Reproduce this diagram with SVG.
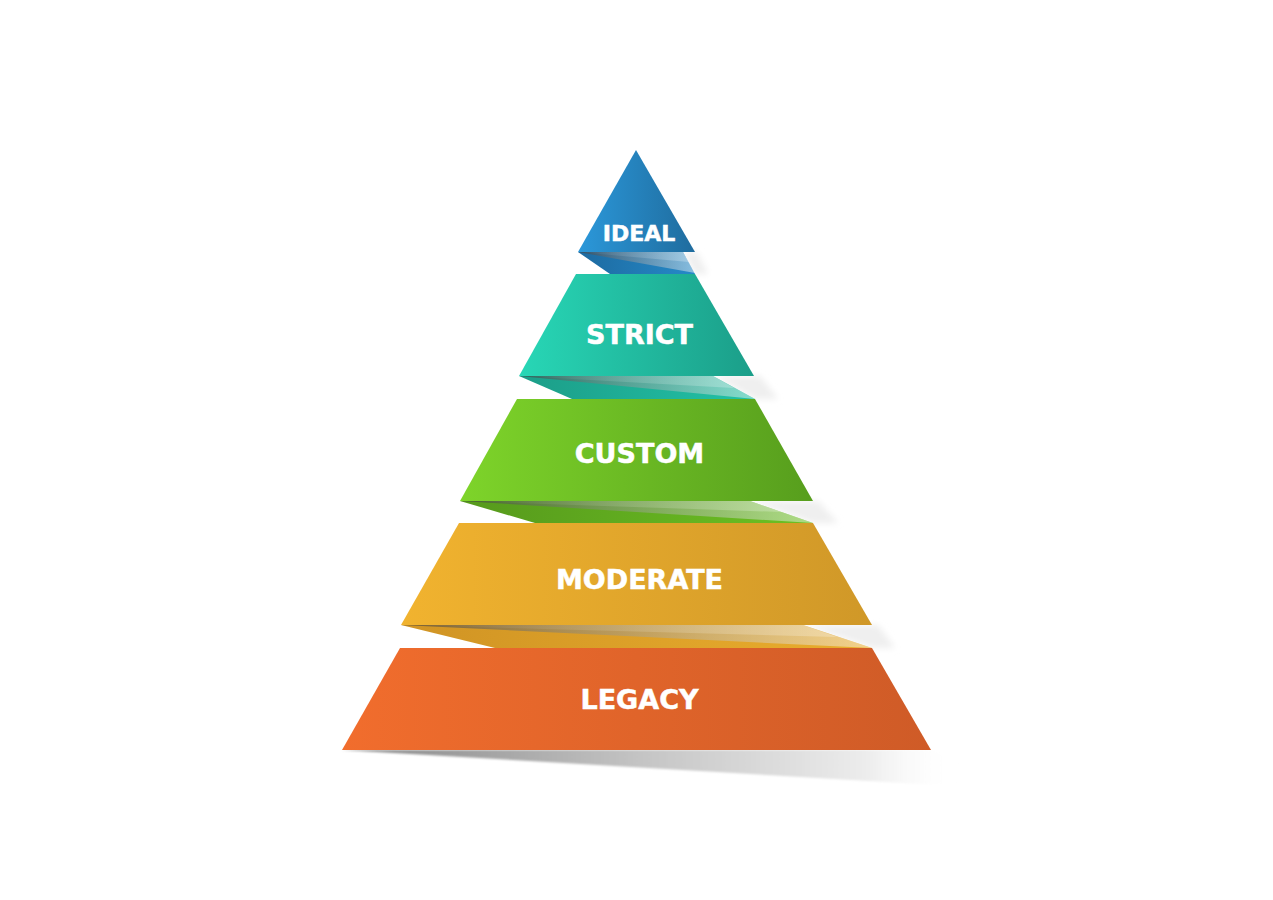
<svg xmlns="http://www.w3.org/2000/svg" width="1273" height="900" viewBox="0 0 1273 900">
<style>
.lbl{font-family:"DejaVu Sans","Liberation Sans",sans-serif;font-weight:bold;fill:#ffffff;stroke:#ffffff;stroke-width:0.5;stroke-linejoin:miter;text-anchor:middle}
.soft{fill:#efefef;filter:url(#blur)}
</style>
<defs>
<filter id="blur" x="-20%" y="-50%" width="140%" height="200%"><feGaussianBlur stdDeviation="3"/></filter>
<filter id="blur2" x="-10%" y="-50%" width="120%" height="200%"><feGaussianBlur stdDeviation="1.2"/></filter>
<linearGradient id="gIdeal" x1="0" y1="0" x2="1" y2="0"><stop offset="0" stop-color="#2b98da"/><stop offset="1" stop-color="#1f6c9e"/></linearGradient>
<linearGradient id="gStrict" x1="0" y1="0" x2="1" y2="0"><stop offset="0" stop-color="#28d7b6"/><stop offset="1" stop-color="#1b9e89"/></linearGradient>
<linearGradient id="gCustom" x1="0" y1="0" x2="1" y2="0"><stop offset="0" stop-color="#7ed42a"/><stop offset="1" stop-color="#579e1d"/></linearGradient>
<linearGradient id="gModerate" x1="0" y1="0" x2="1" y2="0"><stop offset="0" stop-color="#f1b32f"/><stop offset="1" stop-color="#d09828"/></linearGradient>
<linearGradient id="gLegacy" x1="0" y1="0" x2="1" y2="0"><stop offset="0" stop-color="#f16d2d"/><stop offset="1" stop-color="#cf5b27"/></linearGradient>
<linearGradient id="fIdeal" x1="0" y1="0" x2="1" y2="0"><stop offset="0" stop-color="#1d6aa0"/><stop offset="1" stop-color="#2589c8"/></linearGradient>
<linearGradient id="fStrict" x1="0" y1="0" x2="1" y2="0"><stop offset="0" stop-color="#1c9d88"/><stop offset="1" stop-color="#22c2a6"/></linearGradient>
<linearGradient id="fCustom" x1="0" y1="0" x2="1" y2="0"><stop offset="0" stop-color="#56991c"/><stop offset="1" stop-color="#6cc023"/></linearGradient>
<linearGradient id="fModerate" x1="0" y1="0" x2="1" y2="0"><stop offset="0" stop-color="#d09424"/><stop offset="1" stop-color="#e9ad2d"/></linearGradient>
<linearGradient id="ov" x1="0" y1="0" x2="1" y2="0"><stop offset="0" stop-color="#3a3a3a" stop-opacity="0.6"/><stop offset="0.55" stop-color="#a8a8a8" stop-opacity="0.45"/><stop offset="1" stop-color="#ffffff" stop-opacity="0.45"/></linearGradient>
<linearGradient id="ov2" x1="0" y1="0" x2="1" y2="0"><stop offset="0" stop-color="#ffffff" stop-opacity="0"/><stop offset="1" stop-color="#ffffff" stop-opacity="0.25"/></linearGradient>
<linearGradient id="gShadow" x1="0" y1="0" x2="1" y2="0"><stop offset="0" stop-color="#858585"/><stop offset="0.5" stop-color="#c6c6c6"/><stop offset="0.85" stop-color="#ececec"/><stop offset="1" stop-color="#ffffff" stop-opacity="0"/></linearGradient>
</defs>
<rect width="1273" height="900" fill="#ffffff"/>

<g id="shadows">
<polygon class="soft" points="683,252 697,252 708,274 695,274"/>
<polygon class="soft" points="713,376 760,376 778,399 755,399"/>
<polygon class="soft" points="750,501 818,501 838,523 813,523"/>
<polygon class="soft" points="803,625 878,625 895,648 872,648"/>
<polygon points="342,750 931,750 958,758 955,786" fill="url(#gShadow)" filter="url(#blur2)"/>
</g>

<g id="folds">
<polygon points="578,252 683,252 695,274 610,274" fill="url(#fIdeal)"/>
<polygon points="578,252 683,252 695,273" fill="url(#ov)"/>
<polygon points="578,252 683,252 689,262" fill="url(#ov2)"/>

<polygon points="519,376 713,376 755,399 572,399" fill="url(#fStrict)"/>
<polygon points="519,376 713,376 755,399" fill="url(#ov)"/>
<polygon points="519,376 713,376 734,388" fill="url(#ov2)"/>

<polygon points="460,501 750,501 813,523 535,523" fill="url(#fCustom)"/>
<polygon points="460,501 750,501 813,523" fill="url(#ov)"/>
<polygon points="460,501 750,501 782,512" fill="url(#ov2)"/>

<polygon points="401,625 803,625 872,648 495,648" fill="url(#fModerate)"/>
<polygon points="401,625 803,625 872,648" fill="url(#ov)"/>
<polygon points="401,625 803,625 837,637" fill="url(#ov2)"/>
</g>

<g id="ideal">
<polygon points="636,150 695,252 578,252" fill="url(#gIdeal)"/>
<text class="lbl" x="639" y="241" font-size="22">IDEAL</text>
</g>
<g id="strict">
<polygon points="576,274 695,274 754,376 519,376" fill="url(#gStrict)"/>
<text class="lbl" x="639.5" y="344" font-size="27">STRICT</text>
</g>
<g id="custom">
<polygon points="517,399 755,399 813,501 460,501" fill="url(#gCustom)"/>
<text class="lbl" x="639.5" y="463" font-size="27">CUSTOM</text>
</g>
<g id="moderate">
<polygon points="459,523 813,523 872,625 401,625" fill="url(#gModerate)"/>
<text class="lbl" x="639.5" y="589" font-size="27">MODERATE</text>
</g>
<g id="legacy">
<polygon points="400,648 872,648 931,750 342,750" fill="url(#gLegacy)"/>
<text class="lbl" x="639.5" y="709" font-size="27">LEGACY</text>
</g>
</svg>
